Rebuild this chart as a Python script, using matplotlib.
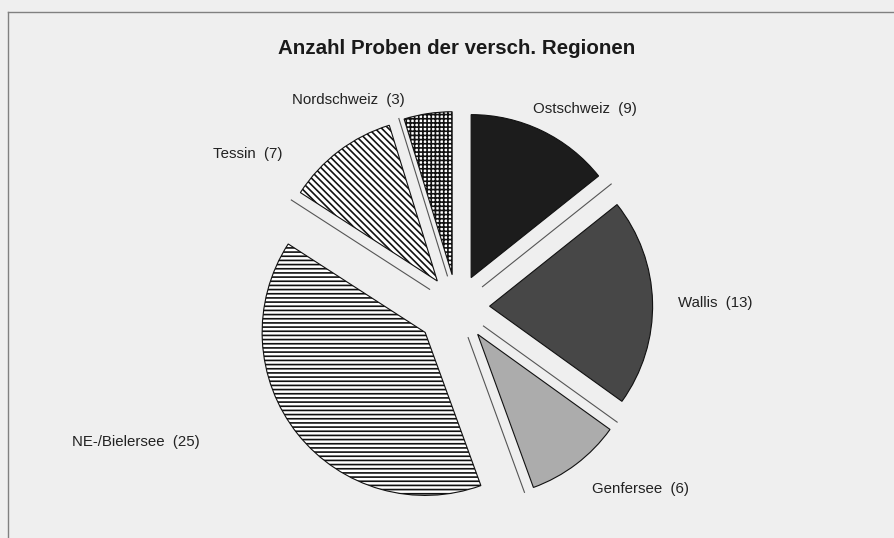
import numpy as np
import matplotlib
matplotlib.use('Agg')
import matplotlib.pyplot as plt

# data
regions = ['Ostschweiz', 'Wallis', 'Genfersee', 'NE-/Bielersee', 'Tessin', 'Nordschweiz']
counts = [9, 13, 6, 25, 7, 3]
title = 'Anzahl Proben der versch. Regionen'

# styles per slice
face = ['#1c1c1c', '#474747', '#acacac', 'white', 'white', 'white']
hatches = [None, None, None, '----', '\\\\\\\\\\', '++++']
explode = [0.2, 0.2, 0.21, 0.25, 0.2, 0.2]

# label positions in pixel coords (x, y from top)
label_pos = [(585, 109), (715, 303), (641, 489), (136, 442), (248, 154), (348, 100)]

W, H = 895, 538
bg = '#efefef'
plt.rcParams['font.family'] = ['Liberation Sans', 'DejaVu Sans']
plt.rcParams['hatch.linewidth'] = 1.2
plt.rcParams['hatch.color'] = '#111111'

fig = plt.figure(figsize=(W / 100, H / 100), dpi=100)
fig.patch.set_facecolor(bg)
ax = fig.add_axes([0, 0, 1, 1])
ax.set_facecolor(bg)

cx, cy, R = 457, H - 307, 163
wedges, _ = ax.pie(counts, explode=[e * R for e in explode], startangle=90,
                   counterclock=False, center=(cx, cy), radius=R, colors=face,
                   wedgeprops=dict(edgecolor='#111111', linewidth=0.8))
for w, h in zip(wedges, hatches):
    if h:
        w.set_hatch(h)

# thin boundary lines showing through the gaps
cum = np.cumsum(counts)[:-1]
for c in cum:
    a = np.radians(90 - 360.0 * c / sum(counts))
    r = np.array([0.2 * R, 1.21 * R])
    ax.plot(cx + r * np.cos(a), cy + r * np.sin(a), color='#555555', lw=0.8)

for name, n, (x, y) in zip(regions, counts, label_pos):
    ax.text(x, H - y, name + '  (' + str(n) + ')', ha='center', va='center',
            fontsize=10.8, color='#222222')

ax.text(457, H - 48, title, ha='center', va='center', fontsize=14.8,
        fontweight='bold', color='#1a1a1a')

# frame of the scanned figure
ax.plot([8, W], [H - 12, H - 12], color='#808080', lw=1)
ax.plot([8, 8], [H - 12, 0], color='#808080', lw=1)

ax.set_xlim(0, W)
ax.set_ylim(0, H)
ax.set_aspect('equal')
ax.axis('off')

fig.savefig('out.png', dpi=100, facecolor=bg)
